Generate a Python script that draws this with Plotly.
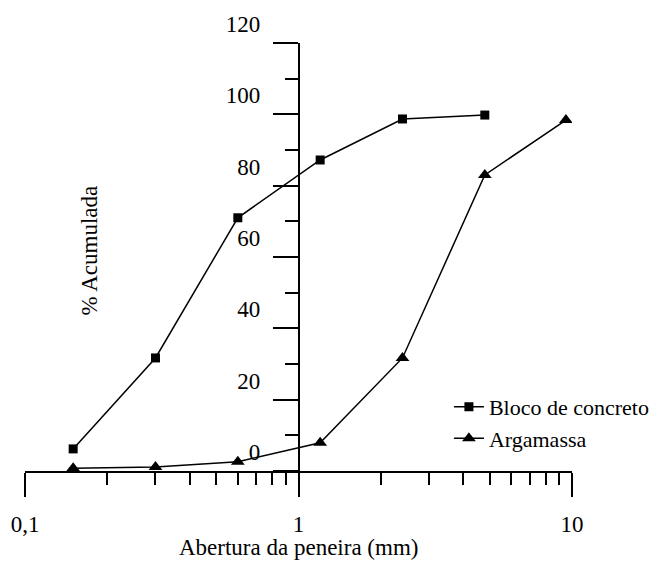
import plotly.graph_objects as go

sieve_mm = [0.15, 0.3, 0.6, 1.2, 2.4, 4.8, 9.5]
bloco = [6.2, 31.7, 71.0, 87.2, 98.7, 99.8]
argamassa = [0.8, 1.1, 2.6, 7.9, 31.7, 83.0, 98.4]

x_tickvals = [0.1, 1, 10]
x_ticktext = ["0,1", "1", "10"]
x_minor = [0.2, 0.3, 0.4, 0.5, 0.6, 0.7, 0.8, 0.9, 2, 3, 4, 5, 6, 7, 8, 9]
y_tickvals = [0, 20, 40, 60, 80, 100, 120]

FONT = "Liberation Serif"
FS = 23

fig = go.Figure()
fig.add_trace(go.Scatter(
    x=sieve_mm[:len(bloco)], y=bloco, name="Bloco de concreto",
    mode="lines+markers",
    line=dict(color="black", width=1.5),
    marker=dict(symbol="square", size=9, color="black"),
))
fig.add_trace(go.Scatter(
    x=sieve_mm, y=argamassa, name="Argamassa",
    mode="lines+markers",
    line=dict(color="black", width=1.5),
    marker=dict(symbol="triangle-up", size=12, color="black"),
))

fig.update_layout(
    width=667, height=561,
    margin=dict(l=25, r=90, t=43, b=90),
    plot_bgcolor="white", paper_bgcolor="white",
    font=dict(family=FONT, size=FS, color="black"),
    showlegend=True,
    legend=dict(x=0.775, y=0.199, xanchor="left", yanchor="top",
                bgcolor="rgba(0,0,0,0)", font=dict(size=FS - 1),
                tracegroupgap=0, itemsizing="trace"),
    xaxis=dict(
        type="log", range=[-1, 1],
        showgrid=False, zeroline=False,
        showline=True, linecolor="black", linewidth=1.5,
        ticks="outside", ticklen=24, tickwidth=1.5, tickcolor="black",
        tickmode="array", tickvals=x_tickvals, ticktext=x_ticktext,
        ticklabelstandoff=8,
        minor=dict(ticks="outside", ticklen=12, tickwidth=1.5, tickcolor="black",
                   tickmode="array", tickvals=x_minor, showgrid=False),
    ),
    yaxis=dict(
        range=[0, 120],
        anchor="free", position=0.5,
        showgrid=False, zeroline=False,
        showline=True, linecolor="black", linewidth=1.5,
        ticks="outside", ticklen=25, tickwidth=1.5, tickcolor="black",
        tickmode="array", tickvals=y_tickvals,
        ticklabelshift=-19, ticklabelstandoff=8,
        minor=dict(ticks="outside", ticklen=13, tickwidth=1.5, tickcolor="black",
                   dtick=10, showgrid=False),
    ),
    annotations=[
        dict(text="% Acumulada", x=(90 - 25) / 552, y=(471 - 250) / 428,
             xref="paper", yref="paper", xanchor="center", yanchor="middle",
             showarrow=False, textangle=-90, font=dict(size=FS)),
        dict(text="Abertura da peneira (mm)", x=0.5, y=-0.178, xref="paper", yref="paper",
             xanchor="center", yanchor="middle", showarrow=False, font=dict(size=FS)),
    ],
)

fig.write_html("out.html")
